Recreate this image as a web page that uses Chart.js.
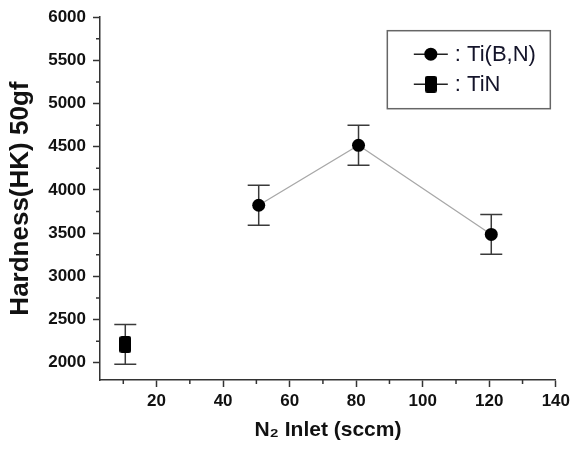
<!DOCTYPE html>
<html>
<head>
<meta charset="UTF-8">
<title>Hardness vs N2 inlet</title>
<script src="https://cdn.jsdelivr.net/npm/chart.js@4/dist/chart.umd.min.js"></script>
<style>
    html, body { margin: 0; padding: 0; background: #fff; }
    #wrap { width: 574px; height: 452px; }
</style>
</head>
<body>
<div id="wrap"><canvas id="chart" width="574" height="452"></canvas></div>
<script>
// data
const seriesNames = ['Ti(B,N)', 'TiN'];
const tibnX = [50.7, 80.7, 120.6];
const tibnY = [3823, 4517, 3485];
const tibnErr = [232, 232, 230];
const tinX = [10.6];
const tinY = [2212];
const tinErr = [231];

const xTicks = [20, 40, 60, 80, 100, 120, 140];
const yTicks = [2000, 2500, 3000, 3500, 4000, 4500, 5000, 5500, 6000];

const FONT = "'Liberation Sans', Arial, sans-serif";
const AXIS = '#333';

// tall rounded block used as the TiN marker
function makeBlock(w, h) {
    const c = document.createElement('canvas');
    c.width = w; c.height = h;
    const g = c.getContext('2d');
    g.fillStyle = '#000';
    g.beginPath();
    g.roundRect(0, 0, w, h, 2.5);
    g.fill();
    return c;
}
const block = makeBlock(12, 17);

const toPts = (xs, ys) => xs.map((x, i) => ({ x: x, y: ys[i] }));

// vertical error bars with caps
const errorBars = {
    id: 'errorBars',
    beforeDatasetsDraw(chart) {
        const ctx = chart.ctx;
        const xs = chart.scales.x, ys = chart.scales.y;
        chart.data.datasets.forEach((ds) => {
            ds.data.forEach((p, i) => {
                const e = ds.errors[i];
                const px = xs.getPixelForValue(p.x);
                const top = ys.getPixelForValue(p.y + e);
                const bot = ys.getPixelForValue(p.y - e);
                ctx.save();
                ctx.strokeStyle = '#3a3a3a';
                ctx.lineWidth = 1.5;
                ctx.beginPath();
                ctx.moveTo(px, top); ctx.lineTo(px, bot);
                ctx.moveTo(px - 11, top); ctx.lineTo(px + 11, top);
                ctx.moveTo(px - 11, bot); ctx.lineTo(px + 11, bot);
                ctx.stroke();
                ctx.restore();
            });
        });
    }
};

// short minor ticks halfway between the labelled ones
const minorTicks = {
    id: 'minorTicks',
    afterDraw(chart) {
        const ctx = chart.ctx, a = chart.chartArea;
        const xs = chart.scales.x, ys = chart.scales.y;
        ctx.save();
        ctx.strokeStyle = AXIS;
        ctx.lineWidth = 1.5;
        ctx.beginPath();
        for (let i = 0; i < xTicks.length; i++) {
            const v = xTicks[i] - 10;
            if (v < xs.min) continue;
            const px = xs.getPixelForValue(v);
            ctx.moveTo(px, a.bottom); ctx.lineTo(px, a.bottom + 4);
        }
        for (let i = 1; i < yTicks.length; i++) {
            const py = ys.getPixelForValue((yTicks[i] + yTicks[i - 1]) / 2);
            ctx.moveTo(a.left, py); ctx.lineTo(a.left - 4, py);
        }
        ctx.stroke();
        ctx.restore();
    }
};

// boxed legend in the upper right corner
const boxLegend = {
    id: 'boxLegend',
    afterDraw(chart) {
        const ctx = chart.ctx, a = chart.chartArea;
        const w = 163, h = 78;
        const left = a.right - 6 - w, top = a.top + 13;
        ctx.save();
        ctx.strokeStyle = '#666';
        ctx.lineWidth = 1.5;
        ctx.strokeRect(left + 0.5, top + 0.5, w, h);
        chart.data.datasets.forEach((ds, i) => {
            const cy = top + 24 + i * 30;
            const cx = left + 44;
            ctx.strokeStyle = '#222';
            ctx.lineWidth = 1.5;
            ctx.beginPath();
            ctx.moveTo(left + 27, cy); ctx.lineTo(left + 61, cy);
            ctx.stroke();
            ctx.fillStyle = '#000';
            if (i === 0) {
                ctx.beginPath();
                ctx.arc(cx, cy, 6.5, 0, Math.PI * 2);
                ctx.fill();
            } else {
                ctx.drawImage(block, cx - 6, cy - 8.5);
            }
            ctx.fillStyle = '#14142a';
            ctx.font = '22px ' + FONT;
            ctx.textBaseline = 'middle';
            ctx.fillText(': ' + ds.label, left + 68, cy + 1);
        });
        ctx.restore();
    }
};

new Chart(document.getElementById('chart'), {
    type: 'scatter',
    data: {
        datasets: [{
            label: seriesNames[0],
            data: toPts(tibnX, tibnY),
            errors: tibnErr,
            showLine: true,
            borderColor: '#a8a8a8',
            borderWidth: 1.3,
            pointStyle: 'circle',
            pointRadius: 6.5,
            pointHoverRadius: 6.5,
            pointBackgroundColor: '#000',
            pointBorderColor: '#000',
            pointBorderWidth: 0
        }, {
            label: seriesNames[1],
            data: toPts(tinX, tinY),
            errors: tinErr,
            showLine: false,
            pointStyle: block,
            pointRadius: 8,
            pointBackgroundColor: '#000',
            pointBorderColor: '#000'
        }]
    },
    options: {
        responsive: false,
        animation: false,
        events: [],
        layout: { padding: { left: 0, top: 15, right: 17, bottom: 0 } },
        plugins: {
            legend: { display: false },
            tooltip: { enabled: false }
        },
        scales: {
            x: {
                type: 'linear',
                min: 3,
                max: 140,
                afterBuildTicks: (s) => { s.ticks = xTicks.map(v => ({ value: v })); },
                afterFit: (s) => { s.height = 72; },
                grid: { drawOnChartArea: false, drawTicks: true, tickLength: 7, tickColor: AXIS, tickWidth: 1.5 },
                border: { display: true, color: AXIS, width: 1.5 },
                ticks: {
                    padding: 4,
                    color: '#111',
                    font: { family: FONT, size: 17, weight: 'bold' },
                    maxRotation: 0,
                    callback: (v) => String(v)
                },
                title: {
                    display: true,
                    text: 'N\u2082 Inlet (sccm)',
                    color: '#111',
                    font: { family: FONT, size: 21, weight: 'bold' },
                    padding: { top: 0, bottom: 9 }
                }
            },
            y: {
                type: 'linear',
                min: 1800,
                max: 6000,
                afterBuildTicks: (s) => { s.ticks = yTicks.map(v => ({ value: v })); },
                afterFit: (s) => { s.width = 100; },
                grid: { drawOnChartArea: false, drawTicks: true, tickLength: 7, tickColor: AXIS, tickWidth: 1.5 },
                border: { display: true, color: AXIS, width: 1.5 },
                ticks: {
                    padding: 7,
                    color: '#111',
                    font: { family: FONT, size: 17, weight: 'bold' },
                    callback: (v) => String(v)
                },
                title: {
                    display: true,
                    text: 'Hardness(HK) 50gf',
                    color: '#111',
                    font: { family: FONT, size: 26, weight: 'bold' },
                    padding: { top: 5, bottom: 0 }
                }
            }
        }
    },
    plugins: [errorBars, minorTicks, boxLegend]
});
</script>
</body>
</html>
